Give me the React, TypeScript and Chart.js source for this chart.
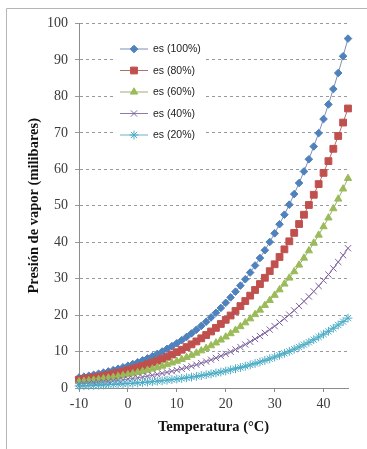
import React, { useEffect, useRef } from 'react';
import { Chart, registerables } from 'chart.js';
import { drawPoint } from 'chart.js/helpers';

Chart.register(...registerables);

const temperatures = [
  -10, -9, -8, -7, -6, -5, -4, -3, -2, -1, 0, 1, 2, 3, 4, 5, 6, 7, 8, 9,
  10, 11, 12, 13, 14, 15, 16, 17, 18, 19, 20, 21, 22, 23, 24, 25, 26, 27, 28, 29,
  30, 31, 32, 33, 34, 35, 36, 37, 38, 39, 40, 41, 42, 43, 44, 45,
];

const es100 = [
  2.86, 3.1, 3.35, 3.62, 3.91, 4.21, 4.55, 4.9, 5.28, 5.68, 6.11, 6.57, 7.06, 7.58, 8.13, 8.72, 9.35, 10.02, 10.73, 11.48,
  12.28, 13.12, 14.02, 14.97, 15.98, 17.04, 18.17, 19.37, 20.63, 21.96, 23.37, 24.86, 26.43, 28.09, 29.83, 31.67, 33.61, 35.65, 37.8, 40.06,
  42.43, 44.93, 47.55, 50.3, 53.2, 56.24, 59.42, 62.76, 66.26, 69.93, 73.78, 77.8, 82.02, 86.42, 91.03, 95.86,
];

const es80 = [
  2.29, 2.48, 2.68, 2.9, 3.13, 3.37, 3.64, 3.92, 4.22, 4.54, 4.89, 5.26, 5.65, 6.06, 6.5, 6.98, 7.48, 8.02, 8.58, 9.18,
  9.82, 10.5, 11.22, 11.98, 12.78, 13.63, 14.54, 15.5, 16.5, 17.57, 18.7, 19.89, 21.14, 22.47, 23.86, 25.34, 26.89, 28.52, 30.24, 32.05,
  33.94, 35.94, 38.04, 40.24, 42.56, 44.99, 47.54, 50.21, 53.01, 55.94, 59.02, 62.24, 65.62, 69.14, 72.82, 76.69,
];

const es60 = [
  1.72, 1.86, 2.01, 2.17, 2.35, 2.53, 2.73, 2.94, 3.17, 3.41, 3.67, 3.94, 4.24, 4.55, 4.88, 5.23, 5.61, 6.01, 6.44, 6.89,
  7.37, 7.87, 8.41, 8.98, 9.59, 10.22, 10.9, 11.62, 12.38, 13.18, 14.02, 14.92, 15.86, 16.85, 17.9, 19.0, 20.17, 21.39, 22.68, 24.04,
  25.46, 26.96, 28.53, 30.18, 31.92, 33.74, 35.65, 37.66, 39.76, 41.96, 44.27, 46.68, 49.21, 51.85, 54.62, 57.52,
];

const es40 = [
  1.14, 1.24, 1.34, 1.45, 1.56, 1.68, 1.82, 1.96, 2.11, 2.27, 2.44, 2.63, 2.82, 3.03, 3.25, 3.49, 3.74, 4.01, 4.29, 4.59,
  4.91, 5.25, 5.61, 5.99, 6.39, 6.82, 7.27, 7.75, 8.25, 8.78, 9.35, 9.94, 10.57, 11.24, 11.93, 12.67, 13.44, 14.26, 15.12, 16.02,
  16.97, 17.97, 19.02, 20.12, 21.28, 22.5, 23.77, 25.1, 26.5, 27.97, 29.51, 31.12, 32.81, 34.57, 36.41, 38.34,
];

const es20 = [
  0.57, 0.62, 0.67, 0.72, 0.78, 0.84, 0.91, 0.98, 1.06, 1.14, 1.22, 1.31, 1.41, 1.52, 1.63, 1.74, 1.87, 2.0, 2.15, 2.3,
  2.46, 2.62, 2.8, 2.99, 3.2, 3.41, 3.63, 3.87, 4.13, 4.39, 4.67, 4.97, 5.29, 5.62, 5.97, 6.33, 6.72, 7.13, 7.56, 8.01,
  8.49, 8.99, 9.51, 10.06, 10.64, 11.25, 11.88, 12.55, 13.25, 13.99, 14.76, 15.56, 16.4, 17.28, 18.21, 19.17,
];

const seriesLabels = ['es (100%)', 'es (80%)', 'es (60%)', 'es (40%)', 'es (20%)'];
const xTitle = 'Temperatura (°C)';
const yTitle = 'Presión de vapor (milibares)';

const styles = [
  { color: '#4F81BD', line: '#7F8FB5', pointStyle: 'rectRot', radius: 3.8, fill: true },
  { color: '#C0504D', line: '#B07070', pointStyle: 'rect', radius: 4.8, fill: true },
  { color: '#9BBB59', line: '#9AAE78', pointStyle: 'triangle', radius: 4.2, fill: true },
  { color: '#8064A2', line: '#8E7AA8', pointStyle: 'crossRot', radius: 4.4, fill: false },
  { color: '#4BACC6', line: '#6AB3C6', pointStyle: 'star', radius: 4.4, fill: false },
];

const insideLegend = {
  id: 'insideLegend',
  afterDraw(chart: any) {
    const ctx = chart.ctx as CanvasRenderingContext2D;
    ctx.save();
    ctx.fillStyle = '#ffffff';
    ctx.fillRect(114, 38, 92, 108);
    const datasets = chart.data.datasets;
    datasets.forEach((ds: any, i: number) => {
      const st = styles[i];
      const y = 49 + i * 21.5;
      ctx.strokeStyle = st.line;
      ctx.lineWidth = 1;
      ctx.beginPath();
      ctx.moveTo(120, y);
      ctx.lineTo(148, y);
      ctx.stroke();
      ctx.fillStyle = st.color;
      ctx.strokeStyle = st.color;
      drawPoint(ctx, { pointStyle: st.pointStyle as any, radius: st.radius, rotation: 0, borderWidth: 1 }, 134, y);
      ctx.fillStyle = '#222222';
      ctx.font = '10.5px "Liberation Sans", Arial, sans-serif';
      ctx.textAlign = 'left';
      ctx.textBaseline = 'middle';
      ctx.fillText(ds.label, 153, y + 0.5);
    });
    ctx.restore();
  },
};

const frameBorder = {
  id: 'frameBorder',
  beforeDraw(chart: any) {
    const ctx = chart.ctx as CanvasRenderingContext2D;
    ctx.save();
    ctx.fillStyle = '#ffffff';
    ctx.fillRect(0, 0, chart.width, chart.height);
    ctx.strokeStyle = '#b5b5b5';
    ctx.lineWidth = 1;
    ctx.beginPath();
    ctx.moveTo(6.5, chart.height);
    ctx.lineTo(6.5, 8.5);
    ctx.lineTo(chart.width, 8.5);
    ctx.stroke();
    ctx.restore();
  },
};

export default function App() {
  const ref = useRef<HTMLCanvasElement>(null);
  useEffect(() => {
    document.body.style.margin = '0';
    const series = [es100, es80, es60, es40, es20];
    const tickFont = { family: '"Liberation Serif", "Times New Roman", serif', size: 14 };
    const titleFont = { family: '"Liberation Serif", "Times New Roman", serif', size: 14.5, weight: 'bold' as const };
    const chart = new Chart(ref.current as HTMLCanvasElement, {
      type: 'line',
      data: {
        datasets: series.map((vals, i) => ({
          label: seriesLabels[i],
          data: temperatures.map((t, j) => ({ x: t, y: vals[j] })),
          borderColor: styles[i].line,
          borderWidth: 1,
          backgroundColor: styles[i].color,
          pointStyle: styles[i].pointStyle as any,
          pointRadius: styles[i].radius,
          pointBackgroundColor: styles[i].fill ? styles[i].color : 'rgba(0,0,0,0)',
          pointBorderColor: styles[i].color,
          pointBorderWidth: 1,
          tension: 0,
          fill: false,
          clip: false,
          order: 5 - i,
        })),
      },
      options: {
        responsive: false,
        animation: false,
        layout: { padding: { left: 0, right: 19, top: 23.5, bottom: 0 } },
        plugins: { legend: { display: false }, tooltip: { enabled: false } },
        scales: {
          x: {
            type: 'linear',
            min: -10,
            max: 45,
            ticks: { stepSize: 10, includeBounds: false, font: tickFont, color: '#3a3a3a', padding: 4, maxRotation: 0 },
            grid: { drawOnChartArea: false, drawTicks: true, tickLength: 4, color: '#8c8c8c' },
            border: { color: '#8c8c8c', width: 1 },
            title: { display: true, text: xTitle, font: titleFont, color: '#111111', padding: { top: 0, bottom: 13 } },
            afterFit: (s: any) => { s.height = 61; },
          },
          y: {
            min: 0,
            max: 100,
            ticks: { stepSize: 10, font: tickFont, color: '#3a3a3a', padding: 7 },
            grid: { color: '#9a9a9a', tickLength: 4, drawTicks: true },
            border: { color: '#8c8c8c', width: 1, dash: [3, 3] },
            title: { display: true, text: yTitle, font: titleFont, color: '#111111', padding: { top: 26, bottom: 0 } },
            afterFit: (s: any) => { s.width = 79; },
          },
        },
      },
      plugins: [frameBorder, insideLegend],
    } as any);
    return () => chart.destroy();
  }, []);
  return (
    <div style={{ width: 367, height: 449 }}>
      <canvas ref={ref} width={367} height={449} style={{ display: 'block' }} />
    </div>
  );
}
